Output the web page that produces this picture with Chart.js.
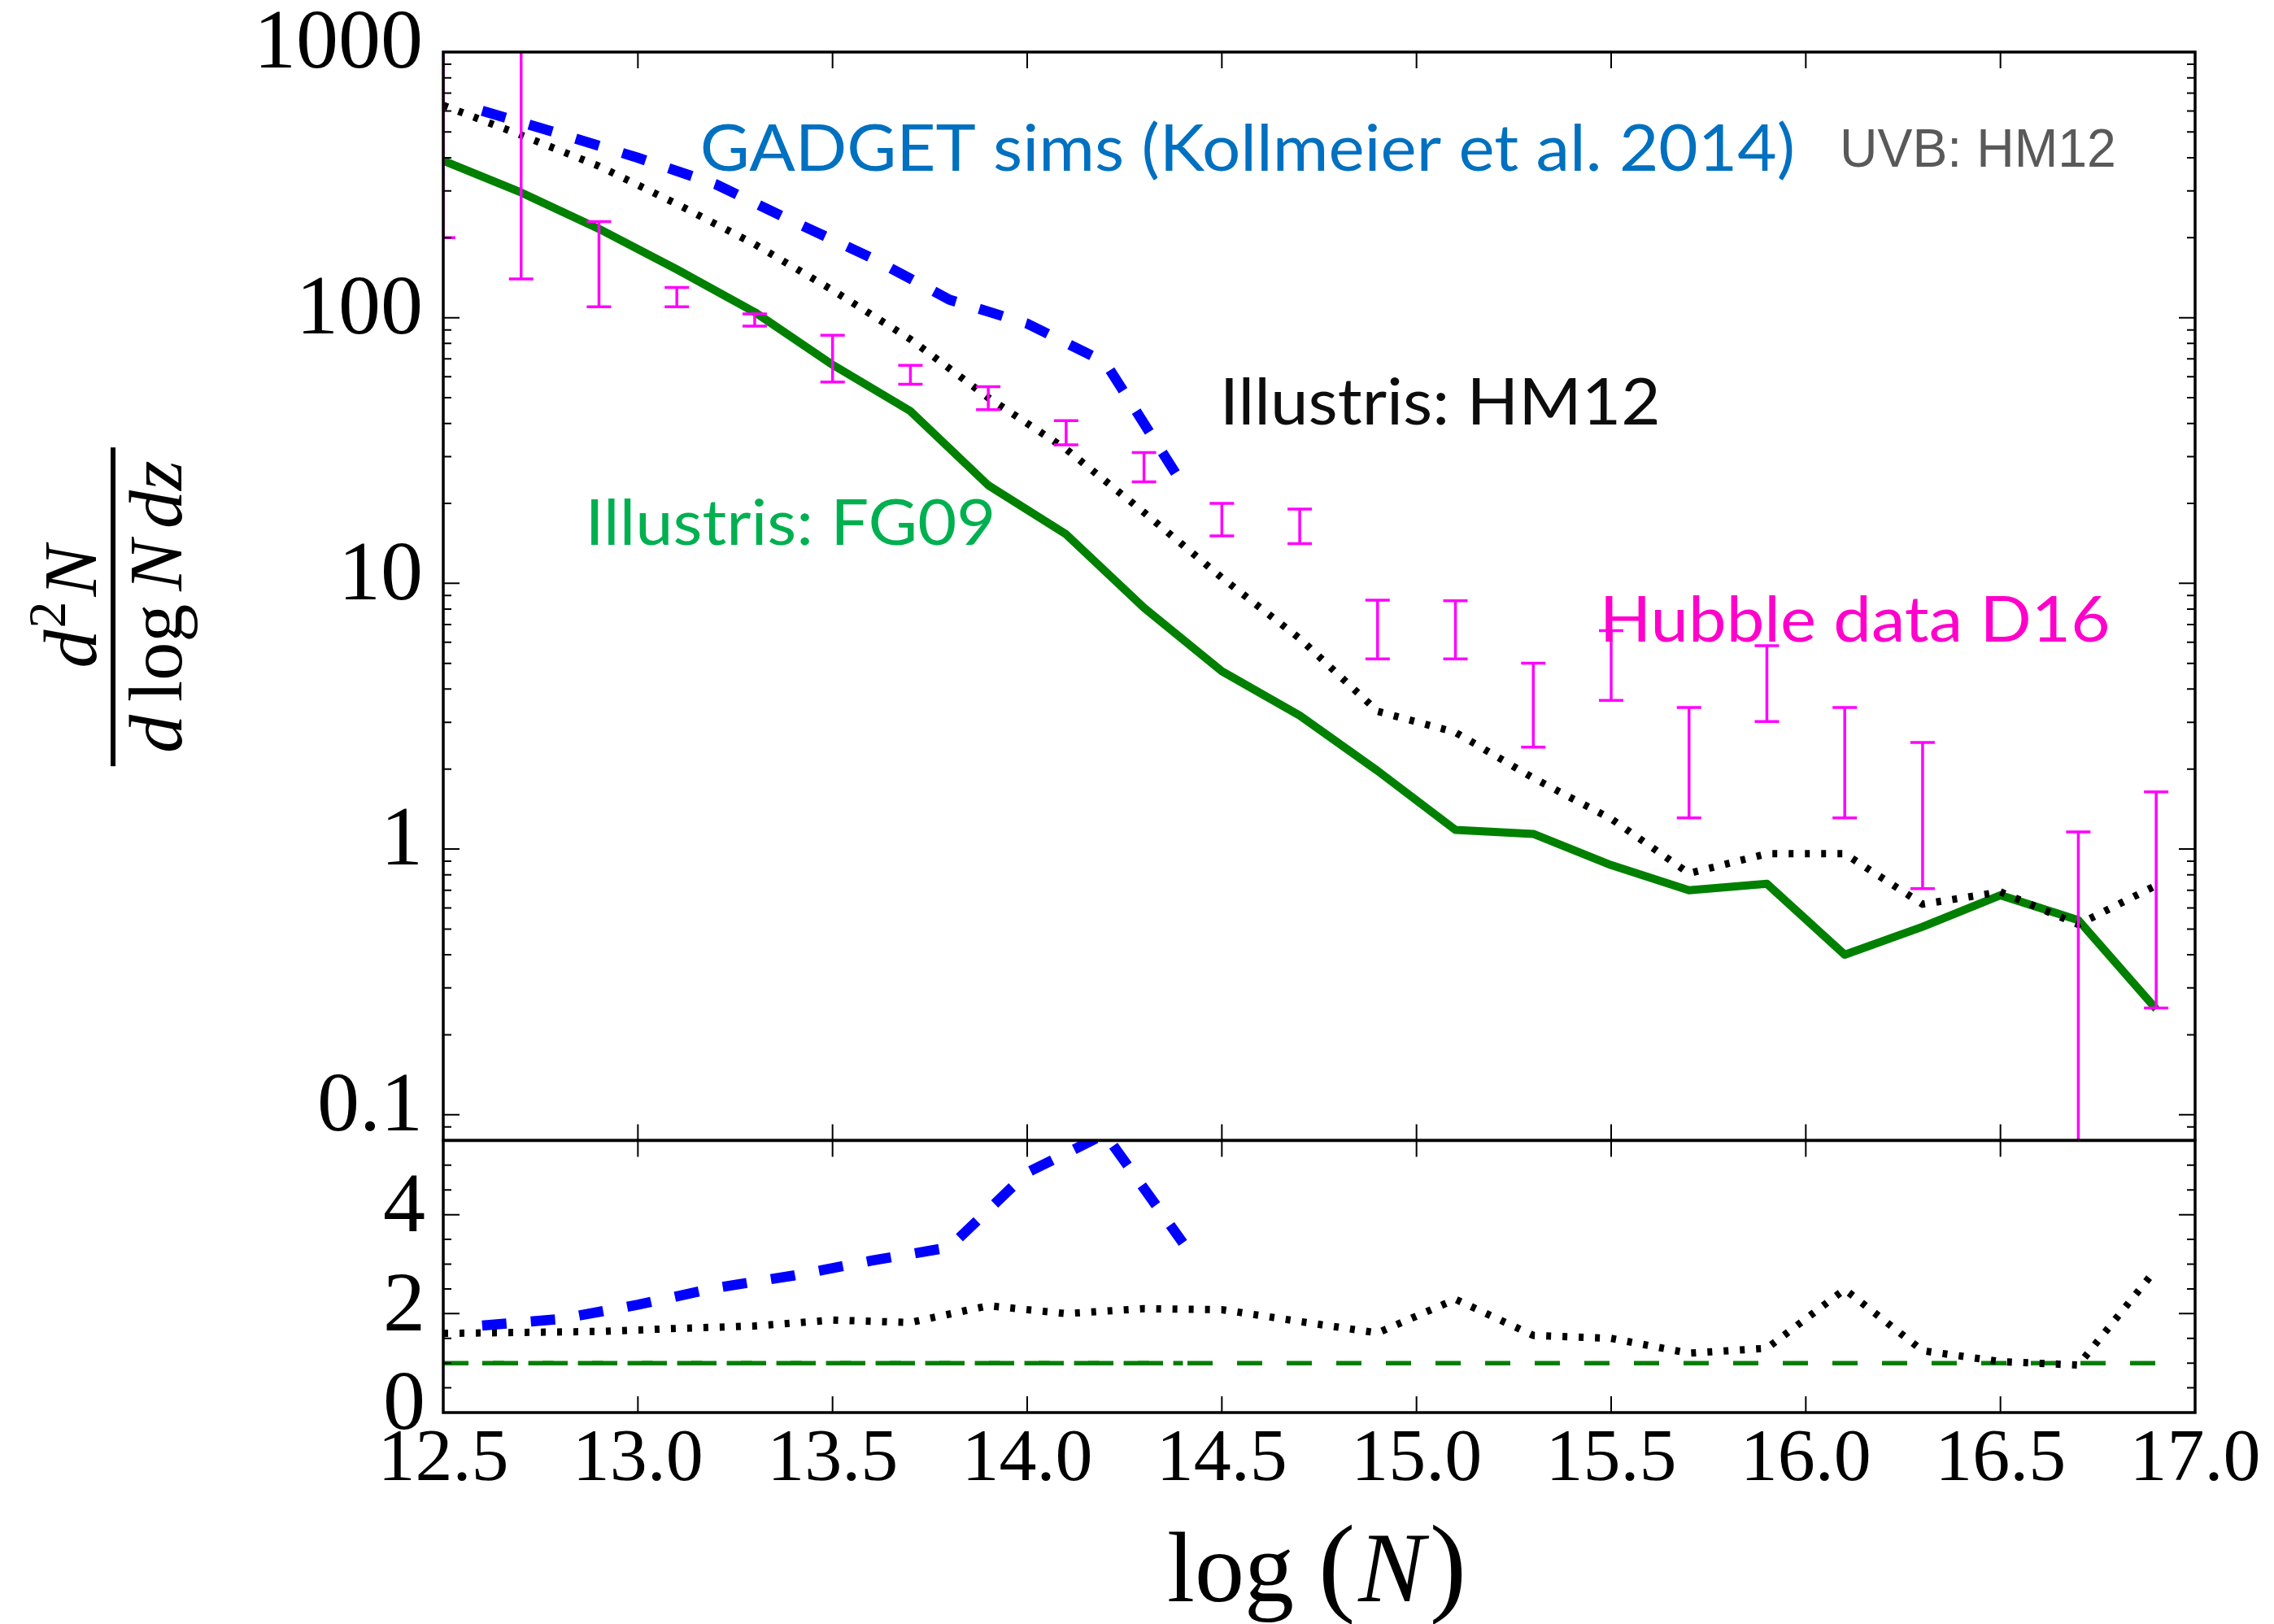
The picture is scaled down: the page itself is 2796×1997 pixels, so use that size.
<!DOCTYPE html>
<html>
<head>
<meta charset="utf-8">
<script src="https://cdn.jsdelivr.net/npm/chart.js@4.4.1/dist/chart.umd.min.js"></script>
<style>
  html, body { margin: 0; padding: 0; background: #ffffff; }
  canvas { display: block; }
</style>
</head>
<body>
<canvas id="cddf" width="2796" height="1997"></canvas>
<script>
// ---- Column density distribution, log N bins ----
const logN = [12.5, 12.7, 12.9, 13.1, 13.3, 13.5, 13.7, 13.9, 14.1, 14.3, 14.5, 14.7,
              14.9, 15.1, 15.3, 15.5, 15.7, 15.9, 16.1, 16.3, 16.5, 16.7, 16.9];

// Illustris with FG09 background (solid green)
const illustrisFG09 = [390, 296, 216, 152, 105, 66.5, 44.5, 23.4, 15.3, 8.1, 4.67, 3.18,
                       1.97, 1.18, 1.14, 0.87, 0.70, 0.74, 0.40, 0.51, 0.67, 0.54, 0.25];

// Illustris with HM12 background (dotted black)
const illustrisHM12 = [630, 487, 372, 268, 189, 127, 83, 50, 32, 18.5, 10.5, 6.2,
                       3.3, 2.75, 1.85, 1.30, 0.81, 0.96, 0.96, 0.62, 0.69, 0.52, 0.73];

// GADGET simulations (dashed blue)
const gadgetLogN = [12.6, 12.8, 13.0, 13.2, 13.4, 13.6, 13.8, 14.0, 14.2, 14.4];
const gadgetHM12 = [601, 492, 400, 318, 230, 168, 117, 95, 68, 23.5];

// Ratios to Illustris FG09 (lower panel)
const ratioHM12   = [1.60, 1.62, 1.64, 1.70, 1.75, 1.87, 1.82, 2.16, 2.00, 2.10, 2.08, 1.84,
                     1.61, 2.29, 1.56, 1.50, 1.20, 1.30, 2.49, 1.25, 1.03, 0.96, 2.90];
const ratioGadget = [1.76, 1.89, 2.18, 2.52, 2.77, 3.07, 3.34, 4.85, 5.63, 3.43];
const ratioFG09   = [1, 1, 1, 1, 1, 1, 1, 1, 1, 1, 1, 1, 1, 1, 1, 1, 1, 1, 1, 1, 1, 1, 1];
const ratioFG09onGadget = [1, 1, 1, 1, 1, 1, 1, 1, 1, 1];

// Hubble data D16: error bar ranges
const d16LogN = [12.5, 12.7, 12.9, 13.1, 13.3, 13.5, 13.7, 13.9, 14.1, 14.3, 14.5,
                 14.7, 14.9, 15.1, 15.3, 15.5, 15.7, 15.9, 16.1, 16.3, 16.7, 16.9];
const d16Low  = [200, 140, 110, 110, 93, 57.3, 56.2, 45.1, 33.2, 24.1, 15.1,
                 14.1, 5.2, 5.2, 2.42, 3.63, 1.31, 3.02, 1.31, 0.71, 0.01, 0.252];
const d16High = [1500, 1500, 230, 130, 103.4, 85.9, 66.2, 55.0, 41.0, 31.1, 20.0,
                 19.05, 8.65, 8.6, 5.01, 6.64, 3.41, 5.83, 3.41, 2.52, 1.16, 1.64];

// Tick labels
const xTicks = [12.5, 13.0, 13.5, 14.0, 14.5, 15.0, 15.5, 16.0, 16.5, 17.0];
const mainTicks = [0.1, 1, 10, 100, 1000];
const ratioTicks = [0, 2, 4];

// ---- styling ----
const SERIF = '"Liberation Serif", "DejaVu Serif", serif';
const HUMANIST = 'Lato, "Open Sans", sans-serif';
const GROTESK = '"Liberation Sans", Arial, sans-serif';
const MAGENTA = '#FF00FF';

// In-plot annotations, placed in data coordinates (x span, baseline value)
const notes = [
  { text: 'GADGET sims (Kollmeier et al. 2014)', x0: 13.166, x1: 15.965, y: 357,  color: '#0070C0', family: HUMANIST, cap: 58 },
  { text: 'UVB: HM12',        x0: 16.097, x1: 16.791, y: 371,  color: '#595959', family: GROTESK,  cap: 46 },
  { text: 'Illustris: HM12',  x0: 14.510, x1: 15.618, y: 39.5, color: '#0D0D0D', family: HUMANIST, cap: 58 },
  { text: 'Illustris: FG09',  x0: 12.880, x1: 13.910, y: 14.0, color: '#00B050', family: HUMANIST, cap: 57 },
  { text: 'Hubble data D16',  x0: 15.486, x1: 16.776, y: 6.02, color: '#FF00CC', family: HUMANIST, cap: 56 }
];

function pts(xs, ys) { return xs.map((x, i) => ({ x: x, y: ys[i] })); }

function minorLogTicks(min, max) {
  const out = [];
  for (let e = Math.floor(Math.log10(min)); e <= Math.ceil(Math.log10(max)); e++) {
    for (let k = 2; k <= 9; k++) {
      const v = k * Math.pow(10, e);
      if (v >= min && v <= max) out.push(v);
    }
  }
  return out;
}

function fittedText(ctx, n, xs, ys) {
  const probe = 100;
  ctx.font = probe + 'px ' + n.family;
  const capRatio = ctx.measureText('H').actualBoundingBoxAscent / probe;
  const size = n.cap / capRatio;
  ctx.font = size + 'px ' + n.family;
  const m = ctx.measureText(n.text);
  const w = m.actualBoundingBoxLeft + m.actualBoundingBoxRight;
  const px0 = xs.getPixelForValue(n.x0), px1 = xs.getPixelForValue(n.x1);
  const sx = (px1 - px0) / w;
  ctx.save();
  ctx.translate(px0, ys.getPixelForValue(n.y));
  ctx.scale(sx, 1);
  ctx.fillStyle = n.color;
  ctx.textBaseline = 'alphabetic';
  ctx.textAlign = 'left';
  ctx.fillText(n.text, m.actualBoundingBoxLeft, 0);
  ctx.restore();
}

// Draw a run of text pieces centred on cx along a common baseline
function drawRun(ctx, pieces, cx, baseline) {
  let total = 0;
  pieces.forEach(p => { ctx.font = p.font; p.w = ctx.measureText(p.t).width; total += p.w + (p.gap || 0); });
  total -= (pieces[pieces.length - 1].gap || 0);
  let x = cx - total / 2;
  ctx.textAlign = 'left';
  ctx.textBaseline = 'alphabetic';
  pieces.forEach(p => {
    ctx.font = p.font;
    ctx.fillText(p.t, x, baseline + (p.dy || 0));
    x += p.w + (p.gap || 0);
  });
}

// Keep tick-label overhang from pushing the plot area around
function fixedBox(width) {
  return s => {
    if (width) s.width = width;
    s.paddingTop = 0; s.paddingBottom = 0;
  };
}

const decor = {
  id: 'decor',
  afterDatasetsDraw(chart) {
    const ctx = chart.ctx;
    const xs = chart.scales.x, ym = chart.scales.y, yr = chart.scales.yr;

    // Hubble D16 error bars, clipped to the upper panel
    ctx.save();
    ctx.beginPath();
    ctx.rect(xs.left, ym.top, xs.right - xs.left, ym.bottom - ym.top);
    ctx.clip();
    ctx.strokeStyle = MAGENTA;
    ctx.lineWidth = 3.5;
    ctx.lineCap = 'butt';
    d16LogN.forEach((x, i) => {
      const px = xs.getPixelForValue(x);
      const lo = ym.getPixelForValue(d16Low[i]);
      const hi = ym.getPixelForValue(d16High[i]);
      ctx.beginPath();
      ctx.moveTo(px, lo); ctx.lineTo(px, hi);
      ctx.moveTo(px - 15, lo); ctx.lineTo(px + 15, lo);
      ctx.moveTo(px - 15, hi); ctx.lineTo(px + 15, hi);
      ctx.stroke();
    });
    ctx.restore();

    // Annotations
    notes.forEach(n => fittedText(ctx, n, xs, ym));

    // Inward tick marks for both panels
    ctx.save();
    ctx.strokeStyle = '#000';
    ctx.lineWidth = 2;
    ctx.beginPath();
    [ym, yr].forEach(s => {
      xTicks.forEach(v => {
        const px = xs.getPixelForValue(v);
        ctx.moveTo(px, s.top); ctx.lineTo(px, s.top + 20);
        ctx.moveTo(px, s.bottom); ctx.lineTo(px, s.bottom - 20);
      });
    });
    const yTick = (s, v, len) => {
      const py = s.getPixelForValue(v);
      ctx.moveTo(xs.left, py); ctx.lineTo(xs.left + len, py);
      ctx.moveTo(xs.right, py); ctx.lineTo(xs.right - len, py);
    };
    mainTicks.forEach(v => yTick(ym, v, 20));
    minorLogTicks(ym.min, ym.max).forEach(v => yTick(ym, v, 10));
    ratioTicks.forEach(v => yTick(yr, v, 20));
    for (let v = 0.5; v <= yr.max; v += 0.5) {
      if (!ratioTicks.includes(v)) yTick(yr, v, 10);
    }
    ctx.stroke();

    // Panel frames
    ctx.lineWidth = 3.5;
    [ym, yr].forEach(s => ctx.strokeRect(xs.left, s.top, xs.right - xs.left, s.bottom - s.top));
    ctx.restore();
  },
  afterDraw(chart) {
    const ctx = chart.ctx;
    const area = chart.chartArea;
    const ym = chart.scales.y;
    ctx.save();
    ctx.fillStyle = '#000';

    // x-axis title: log (N)
    const cxTitle = (area.left + area.right) / 2 - 3;
    drawRun(ctx, [
      { t: 'log', font: '122px ' + SERIF, gap: 30 },
      { t: '(', font: '136px ' + SERIF, gap: 4 },
      { t: 'N', font: 'italic 122px ' + SERIF, gap: 6 },
      { t: ')', font: '136px ' + SERIF }
    ], cxTitle, area.bottom + 232);

    // y-axis title: d^2N / (d log N dz), rotated
    const cx = area.left - 406;
    const cy = (ym.top + ym.bottom) / 2 + 13;
    ctx.translate(cx, cy);
    ctx.rotate(-Math.PI / 2);
    ctx.fillRect(-196, -3, 392, 6);
    drawRun(ctx, [
      { t: 'd', font: 'italic 94px ' + SERIF, gap: 2 },
      { t: '2', font: '66px ' + SERIF, dy: -38, gap: 6 },
      { t: 'N', font: 'italic 94px ' + SERIF }
    ], 0, -21);
    drawRun(ctx, [
      { t: 'd', font: 'italic 94px ' + SERIF, gap: 16 },
      { t: 'log', font: '94px ' + SERIF, gap: 16 },
      { t: 'N', font: 'italic 94px ' + SERIF, gap: 14 },
      { t: 'dz', font: 'italic 94px ' + SERIF }
    ], 0, 84);
    ctx.restore();
  }
};

const tickFontY = { family: SERIF, size: 104 };
const tickFontX = { family: SERIF, size: 92 };

new Chart(document.getElementById('cddf'), {
  type: 'line',
  data: {
    datasets: [
      { label: 'GADGET sims', data: pts(gadgetLogN, gadgetHM12), yAxisID: 'y', order: 1,
        borderColor: '#0000FF', borderWidth: 12.5, borderDash: [30, 30] },
      { label: 'Illustris: HM12', data: pts(logN, illustrisHM12), yAxisID: 'y', order: 2,
        borderColor: '#000000', borderWidth: 9, borderDash: [6, 14] },
      { label: 'Illustris: FG09', data: pts(logN, illustrisFG09), yAxisID: 'y', order: 3,
        borderColor: '#008000', borderWidth: 10, borderJoinStyle: 'round' },
      { label: 'GADGET / FG09', data: pts(gadgetLogN, ratioGadget), yAxisID: 'yr', order: 1,
        borderColor: '#0000FF', borderWidth: 12.5, borderDash: [30, 30] },
      { label: 'HM12 / FG09', data: pts(logN, ratioHM12), yAxisID: 'yr', order: 2,
        borderColor: '#000000', borderWidth: 9, borderDash: [6, 14] },
      { label: 'FG09 / FG09', data: pts(logN, ratioFG09), yAxisID: 'yr', order: 3,
        borderColor: '#008000', borderWidth: 5.5, borderDash: [31, 30] },
      { label: 'FG09 / FG09 (GADGET range)', data: pts(gadgetLogN, ratioFG09onGadget), yAxisID: 'yr', order: 3,
        borderColor: '#008000', borderWidth: 5.5, borderDash: [31, 30], borderDashOffset: 4.3 }
    ]
  },
  options: {
    responsive: false,
    devicePixelRatio: 1,
    animation: false,
    layout: { padding: { left: 0, top: 64, right: 97, bottom: 0 } },
    elements: {
      point: { radius: 0 },
      line: { tension: 0, fill: false, borderCapStyle: 'butt' }
    },
    datasets: { line: { clip: 0 } },
    plugins: {
      legend: { display: false },
      tooltip: { enabled: false },
      title: { display: false }
    },
    scales: {
      x: {
        type: 'linear', min: 12.5, max: 17.0, position: 'bottom',
        afterBuildTicks: s => { s.ticks = xTicks.map(v => ({ value: v })); },
        afterFit: s => { s.height = 260; },
        grid: { display: false, drawTicks: false },
        border: { display: false },
        ticks: { autoSkip: false, maxRotation: 0, minRotation: 0, padding: 4, color: '#000',
                 font: tickFontX, callback: v => Number(v).toFixed(1) }
      },
      // ratio panel listed first: stacked boxes are placed bottom-up
      yr: {
        type: 'linear', min: 0, max: 5.5, position: 'left',
        stack: 'panels', stackWeight: 1,
        afterBuildTicks: s => { s.ticks = ratioTicks.map(v => ({ value: v })); },
        afterFit: fixedBox(545),
        grid: { display: false, drawTicks: false },
        border: { display: false },
        ticks: { autoSkip: false, padding: 22, labelOffset: -7, color: '#000',
                 font: tickFontY, callback: v => String(v) }
      },
      y: {
        type: 'logarithmic', min: 0.08, max: 1000, position: 'left',
        stack: 'panels', stackWeight: 4,
        afterBuildTicks: s => { s.ticks = mainTicks.map(v => ({ value: v })); },
        afterFit: fixedBox(545),
        grid: { display: false, drawTicks: false },
        border: { display: false },
        ticks: { autoSkip: false, padding: 25, labelOffset: -8, color: '#000',
                 font: tickFontY, callback: v => String(v) }
      }
    }
  },
  plugins: [decor]
});
</script>
</body>
</html>
